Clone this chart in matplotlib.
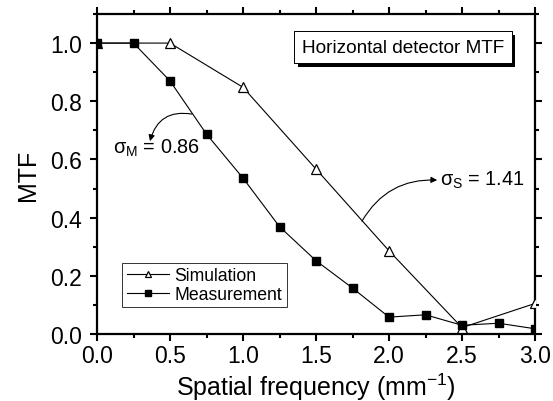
import matplotlib
matplotlib.use("Agg")
import matplotlib.pyplot as plt
import matplotlib.patheffects as pe
from matplotlib.ticker import MultipleLocator

plt.rcParams["font.family"] = ["Liberation Sans", "DejaVu Sans"]
plt.rcParams["mathtext.fontset"] = "custom"
plt.rcParams["mathtext.rm"] = "Liberation Sans"
plt.rcParams["mathtext.it"] = "Liberation Sans"

# simulated MTF
sim_x = [0.0, 0.5, 1.0, 1.5, 2.0, 2.5, 3.0]
sim_y = [1.0, 1.0, 0.848, 0.567, 0.286, 0.022, 0.105]

# measured MTF
mes_x = [0.0, 0.25, 0.5, 0.75, 1.0, 1.25, 1.5, 1.75, 2.0, 2.25, 2.5, 2.75, 3.0]
mes_y = [1.0, 1.0, 0.870, 0.687, 0.536, 0.369, 0.252, 0.158, 0.058, 0.066, 0.030, 0.037, 0.018]

fig = plt.figure(figsize=(5.53, 4.02), dpi=100)
ax = fig.add_axes([97/553, 1 - 335/402, 438/553, 320/402])

ax.plot(sim_x, sim_y, color="black", lw=0.8, marker="^", ms=6.5,
        mfc="white", mec="black", mew=0.9, label="Simulation", zorder=3)
ax.plot(mes_x, mes_y, color="black", lw=0.8, marker="s", ms=6,
        mfc="black", mec="black", label="Measurement", zorder=4)

ax.set_xlim(0, 3.0)
ax.set_ylim(0, 1.1)
ax.xaxis.set_minor_locator(MultipleLocator(0.25))
ax.yaxis.set_minor_locator(MultipleLocator(0.1))
ax.set_xticks([0, 0.5, 1.0, 1.5, 2.0, 2.5, 3.0])
ax.set_xticklabels(["0.0", "0.5", "1.0", "1.5", "2.0", "2.5", "3.0"])
ax.set_yticks([0, 0.2, 0.4, 0.6, 0.8, 1.0])
ax.set_yticklabels(["0.0", "0.2", "0.4", "0.6", "0.8", "1.0"])

for s in ax.spines.values():
    s.set_linewidth(1.6)
ax.tick_params(which="both", direction="out", top=True, right=True,
               labeltop=False, labelright=False, width=1.5)
ax.tick_params(which="major", length=5, labelsize=16.5, pad=2)
ax.tick_params(axis="y", which="major", pad=6)
ax.tick_params(which="minor", length=3)

ax.set_xlabel("Spatial frequency (mm$^{-1}$)", fontsize=18, labelpad=3)
ax.set_ylabel("MTF", fontsize=18, labelpad=7)

leg = ax.legend(loc="lower left", bbox_to_anchor=(0.058, 0.084), fontsize=12.7,
                frameon=True, fancybox=False, handlelength=2.4, markerscale=0.7,
                borderpad=0.25, labelspacing=0.1, handletextpad=0.3,
                borderaxespad=0)
leg.get_frame().set_edgecolor("black")
leg.get_frame().set_linewidth(0.7)

t = ax.text(2.096, 0.986, "Horizontal detector MTF", fontsize=13.7,
            ha="center", va="center",
            bbox=dict(boxstyle="square,pad=0.4", fc="white", ec="black", lw=0.7))
t.get_bbox_patch().set_path_effects([
    pe.withSimplePatchShadow(offset=(2.5, -3), shadow_rgbFace="black", alpha=1.0),
    pe.Normal()])

# sigma labels with curved arrows from the curves
ax.text(0.11, 0.64, r"$\sigma_{\mathrm{M}}$ = 0.86", fontsize=14.3, ha="left", va="center")
ax.annotate("", xy=(0.363, 0.663), xytext=(0.65, 0.756),
            arrowprops=dict(arrowstyle="-|>", color="black", lw=0.8,
                            mutation_scale=9, shrinkA=0, shrinkB=0,
                            connectionstyle="arc3,rad=0.45"))
ax.text(2.35, 0.533, r"$\sigma_{\mathrm{S}}$ = 1.41", fontsize=14.3, ha="left", va="center")
ax.annotate("", xy=(2.33, 0.529), xytext=(1.815, 0.388),
            arrowprops=dict(arrowstyle="-|>", color="black", lw=0.8,
                            mutation_scale=9, shrinkA=0, shrinkB=0,
                            connectionstyle="arc3,rad=-0.3"))

fig.savefig("out.png", dpi=100)
